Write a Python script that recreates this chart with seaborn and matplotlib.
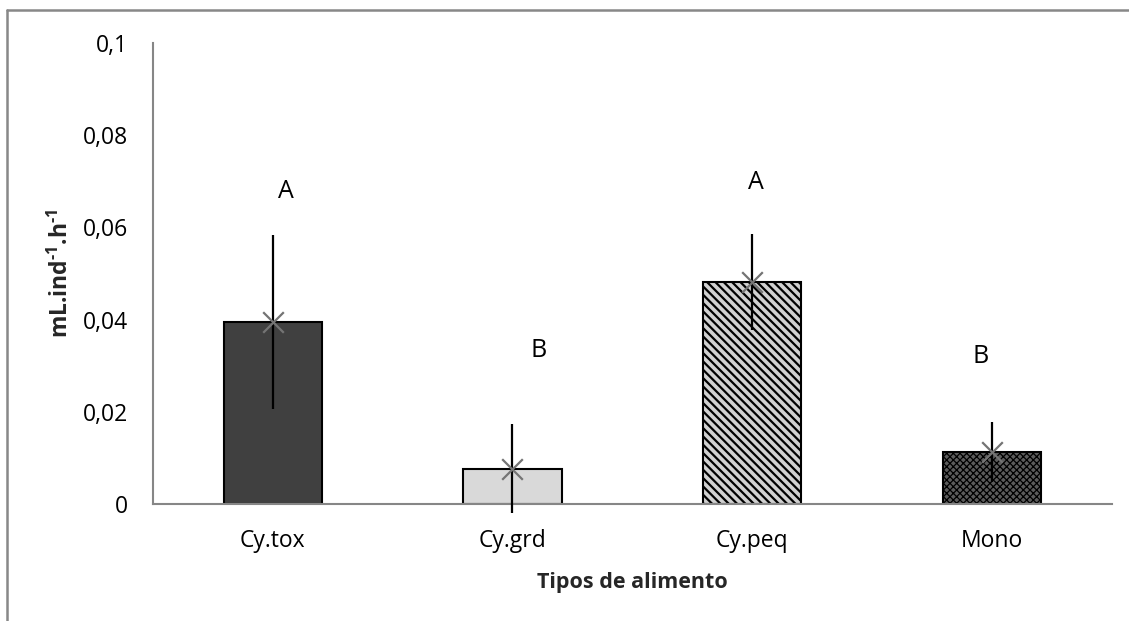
import matplotlib
matplotlib.use("Agg")
import matplotlib.pyplot as plt
from matplotlib.lines import Line2D
from matplotlib.ticker import FixedLocator, FuncFormatter
import seaborn as sns
import pandas as pd

# Clearance rates per food type (mean and standard deviation)
categories = ["Cy.tox", "Cy.grd", "Cy.peq", "Mono"]
means = [0.0395, 0.0077, 0.0482, 0.0113]
sds = [0.0188, 0.0097, 0.0104, 0.0065]
letters = ["A", "B", "A", "B"]
letter_y = [0.0677, 0.0333, 0.0698, 0.0321]
y_ticks = [0, 0.02, 0.04, 0.06, 0.08, 0.1]

sns.set_theme(style="white")
plt.rcParams["font.family"] = ["Open Sans", "DejaVu Sans"]
plt.rcParams["mathtext.fontset"] = "custom"
plt.rcParams["mathtext.rm"] = "Open Sans:bold"
plt.rcParams["mathtext.bf"] = "Open Sans:bold"
plt.rcParams["hatch.linewidth"] = 1.6

df = pd.DataFrame({"alimento": categories, "taxa": means})

fig = plt.figure(figsize=(11.29, 6.21), dpi=100)
ax = fig.add_axes([0.1355, 0.1884, 0.849, 0.7424])

sns.barplot(data=df, x="alimento", y="taxa", ax=ax, width=0.41,
            errorbar=None, edgecolor="black", linewidth=1.5)

styles = [
    dict(facecolor="#404040", hatch=None, hlw=None),
    dict(facecolor="#d9d9d9", hatch=None, hlw=None),
    dict(facecolor="#d0d0d0", hatch="\\\\\\\\", hlw=1.6),
    dict(facecolor="#5c5c5c", hatch="xxxxx", hlw=0.9),
]
for bar, st in zip(ax.patches, styles):
    bar.set_facecolor(st["facecolor"])
    bar.set_edgecolor("black")
    if st["hatch"]:
        bar.set_hatch(st["hatch"])
        if hasattr(bar, "set_hatch_linewidth"):
            bar.set_hatch_linewidth(st["hlw"])

xpos = list(range(len(categories)))
eb = ax.errorbar(xpos, means, yerr=sds, fmt="none", ecolor="black",
                 elinewidth=1.6, capsize=0, zorder=4)
for coll in eb.lines[2]:
    coll.set_clip_on(False)
ax.scatter(xpos, means, marker="x", s=220, color="#747474",
           linewidths=1.6, zorder=5)

offsets = [0.055, 0.11, 0.015, -0.045]
for i, (lt, ly) in enumerate(zip(letters, letter_y)):
    ax.text(i + offsets[i], ly, lt, ha="center", va="center", fontsize=18,
            color="black")

ax.set_ylim(0, 0.1)
ax.set_xlim(-0.5, 3.5)
ax.yaxis.set_major_locator(FixedLocator(y_ticks))
ax.yaxis.set_major_formatter(FuncFormatter(
    lambda v, p: "0" if v == 0 else f"{v:g}".replace(".", ",")))
ax.tick_params(axis="both", length=0, labelsize=16.5, colors="black")
ax.tick_params(axis="y", pad=18)
ax.tick_params(axis="x", pad=18)

for side in ["top", "right"]:
    ax.spines[side].set_visible(False)
for side in ["left", "bottom"]:
    ax.spines[side].set_color("#868686")
    ax.spines[side].set_linewidth(1.5)

ax.set_xlabel("Tipos de alimento", fontsize=15.5, fontweight="bold",
              labelpad=14)
ax.set_ylabel(r"$\text{mL.ind}^{\text{-1}}\text{.h}^{\text{-1}}$",
              fontsize=16.5, labelpad=6)

# Outer frame (top and left edges)
fig.add_artist(Line2D([7 / 1129, 7 / 1129], [0, 1 - 10 / 621],
                      transform=fig.transFigure, color="#888888", lw=1.8))
fig.add_artist(Line2D([7 / 1129, 1.0], [1 - 10 / 621, 1 - 10 / 621],
                      transform=fig.transFigure, color="#888888", lw=1.8))

fig.savefig("out.png", dpi=100, facecolor="white")
